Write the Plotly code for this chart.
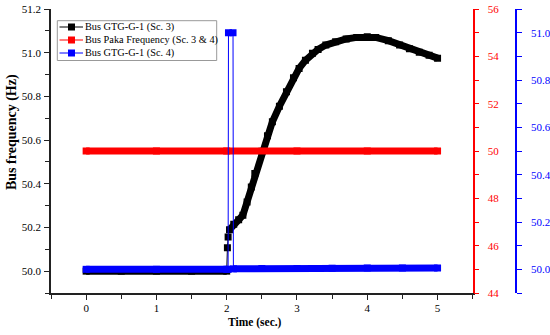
import plotly.graph_objects as go

# ---- data ----
black_time = [0, 0.5, 1.0, 1.5, 2.0, 2.01, 2.02, 2.04, 2.1, 2.17, 2.23, 2.29, 2.35, 2.4, 2.5,
              2.58, 2.65, 2.75, 2.85, 2.95, 3.03, 3.12, 3.22, 3.3, 3.41, 3.55, 3.7, 3.85,
              4.0, 4.12, 4.3, 4.46, 4.6, 4.74, 4.88, 5.0]
black_freq = [50.0, 50.0, 50.0, 50.0, 50.0, 50.107, 50.156, 50.19, 50.215, 50.235, 50.256,
              50.317, 50.385, 50.447, 50.549, 50.62, 50.684, 50.755, 50.821, 50.885, 50.928,
              50.965, 50.997, 51.015, 51.035, 51.05, 51.063, 51.07, 51.073, 51.07, 51.055,
              51.035, 51.018, 51.002, 50.988, 50.975]

red_time = [0, 1, 2, 3, 4, 5]
red_freq = [50, 50, 50, 50, 50, 50]

blue_time = [0, 1.0, 2.0, 2.02, 2.025, 2.09, 2.095, 2.5, 3.0, 3.5, 4.0, 4.5, 5.0]
blue_freq = [50.0, 50.0, 50.0, 50.0, 51.0, 51.0, 50.002, 50.003, 50.004, 50.005, 50.006,
             50.006, 50.006]

names = ["Bus GTG-G-1 (Sc. 3)", "Bus Paka Frequency (Sc. 3 & 4)", "Bus GTG-G-1 (Sc. 4)"]
colors = ["black", "#ff0000", "#0000ff"]

# thick "band" versions (breaks at the abrupt jumps, which are thin lines in the original)
black_band = [None if i in (5, 6) else v for i, v in enumerate(black_freq)]
blue_band = [None if v > 50.5 else v for v in blue_freq]

FONT = "Liberation Serif"
MS = 7
W, H = 550, 335
ML, MR, MT, MB = 51, 20, 9, 42


def px(x):
    return (x - ML) / (W - ML - MR)


def py(y):
    return 1 - (y - MT) / (H - MT - MB)


fig = go.Figure()

fig.add_trace(go.Scatter(x=black_time, y=black_band, mode="lines", line=dict(color=colors[0], width=MS),
                         showlegend=False, hoverinfo="skip", connectgaps=False))
fig.add_trace(go.Scatter(x=black_time, y=black_freq, mode="lines+markers", name=names[0],
                         line=dict(color=colors[0], width=1), showlegend=False,
                         marker=dict(symbol="square", size=MS, color=colors[0])))

fig.add_trace(go.Scatter(x=red_time, y=red_freq, yaxis="y2", mode="lines", line=dict(color=colors[1], width=MS),
                         showlegend=False, hoverinfo="skip"))
fig.add_trace(go.Scatter(x=red_time, y=red_freq, yaxis="y2", mode="lines+markers", name=names[1],
                         line=dict(color=colors[1], width=1), showlegend=False,
                         marker=dict(symbol="square", size=MS, color=colors[1])))

fig.add_trace(go.Scatter(x=blue_time, y=blue_band, yaxis="y3", mode="lines", line=dict(color=colors[2], width=MS),
                         showlegend=False, hoverinfo="skip", connectgaps=False))
fig.add_trace(go.Scatter(x=blue_time, y=blue_freq, yaxis="y3", mode="lines+markers", name=names[2],
                         line=dict(color=colors[2], width=1), showlegend=False,
                         marker=dict(symbol="square", size=MS, color=colors[2])))

tickfont = dict(family=FONT, size=11, color="black")

# ---- compact legend box (as in the original) ----
shapes = [dict(type="rect", xref="paper", yref="paper", x0=px(57.3), x1=px(216.7), y0=py(60.5), y1=py(20.7),
               line=dict(color="#999", width=1), fillcolor="white", layer="above")]
annotations = []
for i, (nm, col) in enumerate(zip(names, colors)):
    yy = 27 + 13 * i
    shapes.append(dict(type="line", xref="paper", yref="paper", x0=px(59.5), x1=px(83), y0=py(yy), y1=py(yy),
                       line=dict(color=col, width=1), layer="above"))
    shapes.append(dict(type="rect", xref="paper", yref="paper", x0=px(68), x1=px(75), y0=py(yy + 3.5), y1=py(yy - 3.5),
                       line=dict(color=col, width=0), fillcolor=col, layer="above"))
    annotations.append(dict(xref="paper", yref="paper", x=px(83.5), y=py(yy), xanchor="left", yanchor="middle",
                            text=nm, showarrow=False, font=dict(family=FONT, size=10.3, color="black"),
                            borderpad=0))

# axis titles (positioned as in the original)
annotations.append(dict(xref="paper", yref="paper", x=px(12), y=py(132), xanchor="center", yanchor="middle",
                        text="Bus frequency (Hz)", textangle=-90, showarrow=False,
                        font=dict(family=FONT, size=14, color="black", weight="bold")))
annotations.append(dict(xref="paper", yref="paper", x=px(255), y=py(322), xanchor="center", yanchor="middle",
                        text="Time (sec.)", showarrow=False,
                        font=dict(family=FONT, size=11.5, color="black", weight="bold")))

fig.update_layout(
    width=W, height=H,
    margin=dict(l=ML, r=MR, t=MT, b=MB, autoexpand=False),
    paper_bgcolor="white", plot_bgcolor="white",
    font=dict(family=FONT, size=11, color="black"),
    xaxis=dict(domain=[0, px(472.7)], range=[-0.5, 5.5], anchor="y",
               showline=True, linecolor="#222", linewidth=1.5, mirror=False,
               ticks="outside", ticklen=5, tickwidth=1.3, tickcolor="#222",
               tick0=0, dtick=1, showgrid=False, zeroline=False,
               minor=dict(dtick=0.5, tick0=0, ticks="outside", ticklen=4, tickwidth=1.3, tickcolor="#222"),
               tickfont=tickfont, ticklabelstandoff=-1),
    xaxis2=dict(domain=[0, px(472.7)], range=[-0.5, 5.5], overlaying="x", side="top", anchor="y",
                showline=True, linecolor="#222", linewidth=1.5,
                ticks="inside", ticklen=5, tickwidth=1.3, tickcolor="#222",
                tick0=0, dtick=1, showgrid=False, zeroline=False, showticklabels=False,
                minor=dict(dtick=0.5, tick0=0, ticks="inside", ticklen=4, tickwidth=1.3, tickcolor="#222")),
    yaxis=dict(domain=[0, 1], range=[49.9, 51.2], anchor="x", side="left",
               showline=True, linecolor="#222", linewidth=1.5,
               ticks="outside", ticklen=5, tickwidth=1.3, tickcolor="#222",
               tick0=50.0, dtick=0.2, tickformat=".1f", showgrid=False, zeroline=False,
               minor=dict(dtick=0.1, tick0=50.0, ticks="outside", ticklen=4, tickwidth=1.3, tickcolor="#222"),
               tickfont=tickfont, ticklabelstandoff=1),
    yaxis2=dict(range=[44, 56], overlaying="y", side="right", anchor="x",
                showline=True, linecolor="#ff0000", linewidth=1.5,
                ticks="outside", ticklen=5, tickwidth=1.3, tickcolor="#ff0000",
                tick0=44, dtick=2, showgrid=False, zeroline=False,
                minor=dict(dtick=1, tick0=44, ticks="outside", ticklen=5, tickwidth=1.3, tickcolor="#ff0000"),
                tickfont=dict(family=FONT, size=11, color="#ff0000"), ticklabelstandoff=6),
    yaxis3=dict(range=[49.9, 51.1], overlaying="y", side="right", anchor="free", position=px(516),
                showline=True, linecolor="#0000ff", linewidth=1.5,
                ticks="outside", ticklen=5, tickwidth=1.3, tickcolor="#0000ff",
                tick0=50.0, dtick=0.2, tickformat=".1f", showgrid=False, zeroline=False,
                minor=dict(dtick=0.1, tick0=50.0, ticks="outside", ticklen=5, tickwidth=1.3, tickcolor="#0000ff"),
                tickfont=dict(family=FONT, size=11, color="#0000ff"), ticklabelstandoff=7),
    shapes=shapes,
    annotations=annotations,
    showlegend=False,
)

fig.write_html("out.html", config={"displayModeBar": False},
               post_script="document.body.style.margin='0';document.body.style.padding='0';")
